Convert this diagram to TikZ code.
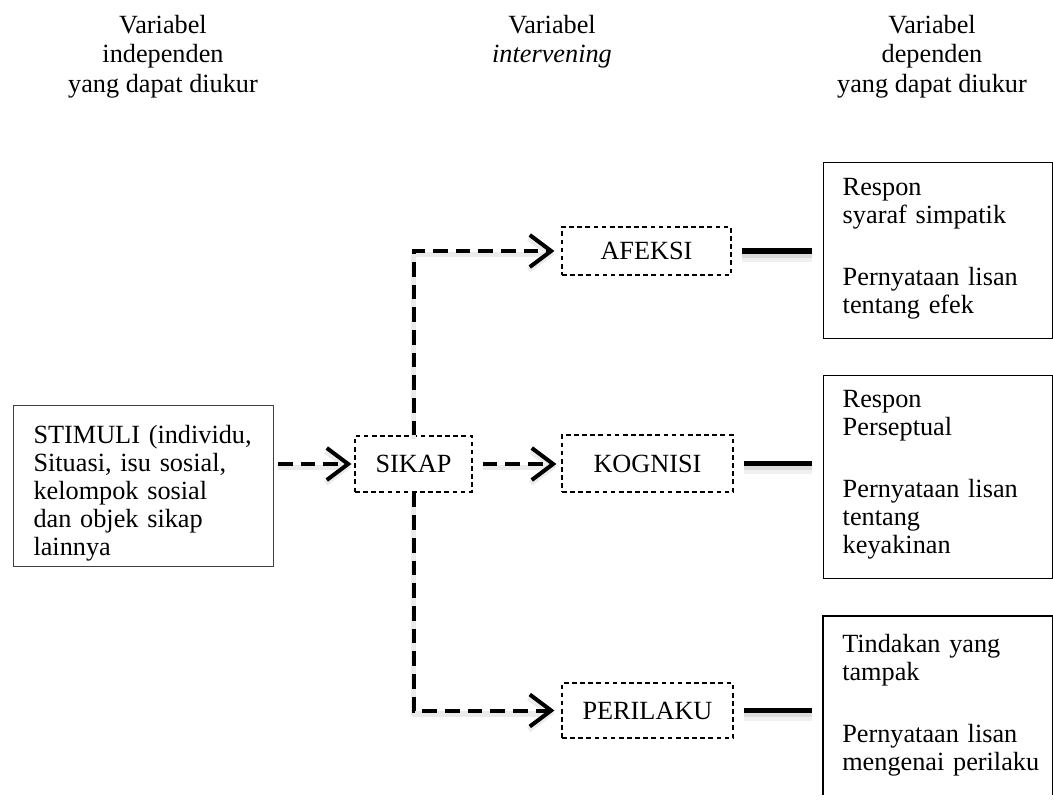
\documentclass[tikz,border=0pt]{standalone}
\usepackage{fontspec}
\setmainfont{Liberation Serif}
\usetikzlibrary{arrows.meta}
\begin{document}
\begin{tikzpicture}[x=0.75pt,y=-0.75pt,
  every node/.style={font=\fontsize{19.7pt}{21pt}\selectfont},
  hdr/.style={anchor=north, inner sep=0pt, align=center, font=\fontsize{19.7pt}{22.1pt}\selectfont},
  dbox/.style={draw, line width=0.8pt, dash pattern=on 3.5pt off 2.6pt, inner sep=0pt},
  tbox/.style={anchor=north west, inner xsep=0pt, inner ysep=0pt, align=left},
  rline/.style={line width=1.1pt},
  sline/.style={line width=4pt,
    preaction={draw=black!6, line width=9pt, transform canvas={yshift=-3.5pt}},
    preaction={draw=black!14, line width=5pt, transform canvas={yshift=-2.5pt}}},
  darrow/.style={line width=3pt, dash pattern=on 11pt off 6pt,
    -{Straight Barb[length=16pt,width=24pt]},
    preaction={draw=black!8, line width=4pt, transform canvas={yshift=-2.5pt}}}
]
\useasboundingbox (0,0) rectangle (1053,805);

% headers
\node[hdr] (h1) at (163,13) {\rule{0pt}{15pt}Variabel\\ independen\\ yang dapat diukur};
\node[hdr] (h2) at (552,13) {\rule{0pt}{15pt}Variabel\\ \textit{intervening}};
\node[hdr] (h3) at (932,13) {\rule{0pt}{15pt}Variabel\\ dependen\\ yang dapat diukur};

% stimulus box
\node[tbox, draw=black!75, line width=0.8pt, text width=195pt] (stim) at (13,405)
  {\leftskip=15pt\relax\rule{0pt}{28.5pt}STIMULI (individu,\\ Situasi, isu sosial,\\ kelompok sosial\\ dan objek sikap\\ lainnya\rule[-8.25pt]{0pt}{8.25pt}\par};

% intervening boxes
\node[dbox, minimum width=87.75pt, minimum height=42pt] (sikap) at (413.5,464) {SIKAP};
\node[dbox, minimum width=126.75pt, minimum height=36pt] (afeksi) at (646.5,251) {AFEKSI};
\node[dbox, minimum width=128.25pt, minimum height=42.75pt] (kognisi) at (647.5,463.5) {KOGNISI};
\node[dbox, minimum width=128.25pt, minimum height=41.25pt] (perilaku) at (647.5,710.5) {PERILAKU};

% dependent boxes
\node[tbox, draw, rline, text width=171.75pt] (dep1) at (823,162)
  {\leftskip=14.25pt\relax\rule{0pt}{24.75pt}Respon\\ syaraf simpatik\\[25.5pt] Pernyataan lisan\\ tentang efek\rule[-18.75pt]{0pt}{18.75pt}\par};
\node[tbox, draw, rline, text width=171.75pt] (dep2) at (823,375)
  {\leftskip=14.25pt\relax\rule{0pt}{24pt}Respon\\ Perseptual\\[25.5pt] Pernyataan lisan\\ tentang\\ keyakinan\rule[-18.75pt]{0pt}{18.75pt}\par};
\node[tbox, text width=171.75pt] (dep3) at (823,616)
  {\leftskip=14.25pt\relax\rule{0pt}{27pt}Tindakan yang\\ tampak\\[25.5pt] Pernyataan lisan\\ mengenai perilaku\rule[-18pt]{0pt}{18pt}\par};
\draw[rline] (dep3.south west) -- (dep3.north west) -- (dep3.north east) -- (dep3.south east);

% dashed arrows
\draw[darrow, shorten <=3pt, shorten >=2.25pt] (stim.east |- sikap.west) -- (sikap.west);
\draw[darrow, shorten <=7.5pt, shorten >=3.75pt] (sikap.east) -- (sikap.east -| kognisi.west);
\draw[darrow, shorten >=5.25pt] (sikap.north) |- (afeksi.west);
\draw[darrow, shorten >=5.25pt] (sikap.south) |- (perilaku.west);

% solid links
\draw[sline, shorten <=7.5pt, shorten >=8pt] (afeksi.east) -- (afeksi.east -| dep1.west);
\draw[sline, shorten <=7.5pt, shorten >=8pt] (kognisi.east) -- (kognisi.east -| dep2.west);
\draw[sline, shorten <=7.5pt, shorten >=8pt] (perilaku.east) -- (perilaku.east -| dep3.west);
\end{tikzpicture}
\end{document}
